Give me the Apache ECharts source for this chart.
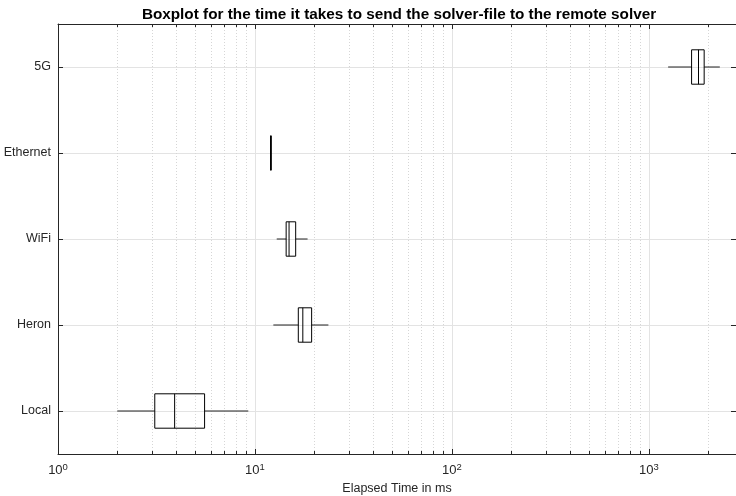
<!DOCTYPE html>
<html>
<head>
<meta charset="utf-8">
<script src="https://cdn.jsdelivr.net/npm/echarts@6/dist/echarts.min.js"></script>
<style>html,body{margin:0;padding:0;background:#fff}#c{width:736px;height:496px}</style>
</head>
<body>
<div id="c"></div>
<script>
const categories = ['Local', 'Heron', 'WiFi', 'Ethernet', '5G'];
const minVals = [2.0, 12.4, 12.9, 12.0, 1253];
const q1Vals  = [3.10, 16.6, 14.4, 12.0, 1648];
const medVals = [3.91, 17.5, 14.9, 12.05, 1787];
const q3Vals  = [5.55, 19.4, 16.1, 12.1, 1909];
const maxVals = [9.25, 23.6, 18.5, 12.1, 2292];
const minorTicks = [2,3,4,5,6,7,8,9,20,30,40,50,60,70,80,90,200,300,400,500,600,700,800,900,2000];
const xMin = 1, xMax = 2770;

const boxData = categories.map((c, i) => [i, minVals[i], q1Vals[i], medVals[i], q3Vals[i], maxVals[i]]);

const FONT = '"Liberation Sans", Arial, Helvetica, sans-serif';
const AX = '#262626';

function renderBox(params, api) {
  const y = api.value(0);
  const pMin = api.coord([api.value(1), y]);
  const pQ1 = api.coord([api.value(2), y]);
  const pMed = api.coord([api.value(3), y]);
  const pQ3 = api.coord([api.value(4), y]);
  const pMax = api.coord([api.value(5), y]);
  const band = Math.abs(api.coord([10, y + 1])[1] - api.coord([10, y])[1]);
  const h = band * 0.4;
  const cy = pMed[1];
  const top = cy - h / 2, bot = cy + h / 2;
  const lineStyle = { stroke: '#000', lineWidth: 1, fill: null };
  return {
    type: 'group',
    children: [
      { type: 'line', shape: { x1: pMin[0], y1: cy, x2: pQ1[0], y2: cy }, style: { stroke: '#222', lineWidth: 1 } },
      { type: 'line', shape: { x1: pQ3[0], y1: cy, x2: pMax[0], y2: cy }, style: { stroke: '#222', lineWidth: 1 } },
      { type: 'rect', shape: { x: pQ1[0], y: top, width: pQ3[0] - pQ1[0], height: h }, style: lineStyle },
      { type: 'line', shape: { x1: pMed[0], y1: top, x2: pMed[0], y2: bot }, style: { stroke: '#000', lineWidth: 1 } }
    ]
  };
}

const chart = echarts.init(document.getElementById('c'), null, { renderer: 'canvas' });
const baseX = { type: 'log', logBase: 10, min: xMin, max: xMax, gridIndex: 0 };
chart.setOption({
  animation: false,
  backgroundColor: '#fff',
  title: {
    text: 'Boxplot for the time it takes to send the solver-file to the remote solver',
    left: 394, top: 2, textAlign: 'center',
    textStyle: { fontFamily: FONT, fontSize: 15.3, fontWeight: 'bold', color: '#000' }
  },
  grid: { left: 58, right: 0, top: 24, bottom: 42, containLabel: false, outerBoundsMode: 'none' },
  xAxis: [
    Object.assign({}, baseX, {
      position: 'bottom',
      name: 'Elapsed Time in ms', nameLocation: 'middle', nameGap: 26,
      nameTextStyle: { fontFamily: FONT, fontSize: 12.5, color: '#262626' },
      axisLine: { show: true, lineStyle: { color: AX, width: 1 } },
      axisTick: { show: true, inside: true, length: 5, lineStyle: { color: AX } },
      axisLabel: {
        margin: 8, showMaxLabel: false,
        formatter: function (v) { return '{b|10}{s|' + Math.round(Math.log10(v)) + '}'; },
        rich: {
          b: { fontFamily: FONT, fontSize: 13, color: '#262626' },
          s: { fontFamily: FONT, fontSize: 9.5, color: '#262626', verticalAlign: 'top', padding: [0, 0, 7, 0] }
        }
      },
      splitLine: { show: true, lineStyle: { color: '#e3e3e3', width: 1, type: 'solid' } }
    }),
    Object.assign({}, baseX, {
      position: 'bottom',
      axisLine: { show: false },
      axisTick: { show: true, inside: true, length: 3, lineStyle: { color: AX }, customValues: minorTicks },
      axisLabel: { show: false },
      splitLine: { show: true, lineStyle: { color: '#d6d6d6', width: 1, type: [1, 2] } }
    }),
    Object.assign({}, baseX, {
      position: 'top',
      axisLine: { show: true, lineStyle: { color: AX, width: 1 } },
      axisTick: { show: true, inside: true, length: 5, lineStyle: { color: AX } },
      axisLabel: { show: false },
      splitLine: { show: false }
    }),
    Object.assign({}, baseX, {
      position: 'top',
      axisLine: { show: false },
      axisTick: { show: true, inside: true, length: 3, lineStyle: { color: AX }, customValues: minorTicks },
      axisLabel: { show: false },
      splitLine: { show: false }
    })
  ],
  yAxis: [
    {
      type: 'category', data: categories, position: 'left', boundaryGap: true,
      axisLine: { show: true, lineStyle: { color: AX, width: 1 } },
      axisTick: { show: true, inside: true, length: 5, alignWithLabel: true, lineStyle: { color: AX } },
      axisLabel: { fontFamily: FONT, fontSize: 12.5, color: '#262626', margin: 7 },
      splitLine: { show: true, alignWithLabel: true, lineStyle: { color: '#e3e3e3', width: 1 } }
    },
    {
      type: 'category', data: categories, position: 'right', boundaryGap: true,
      axisLine: { show: true, lineStyle: { color: AX, width: 1 } },
      axisTick: { show: true, inside: true, length: 5, alignWithLabel: true, lineStyle: { color: AX } },
      axisLabel: { show: false },
      splitLine: { show: false }
    }
  ],
  series: [{
    type: 'custom',
    name: 'box',
    xAxisIndex: 0, yAxisIndex: 0,
    renderItem: renderBox,
    encode: { x: [1, 2, 3, 4, 5], y: 0 },
    data: boxData,
    clip: true,
    z: 5
  }]
});
</script>
</body>
</html>
